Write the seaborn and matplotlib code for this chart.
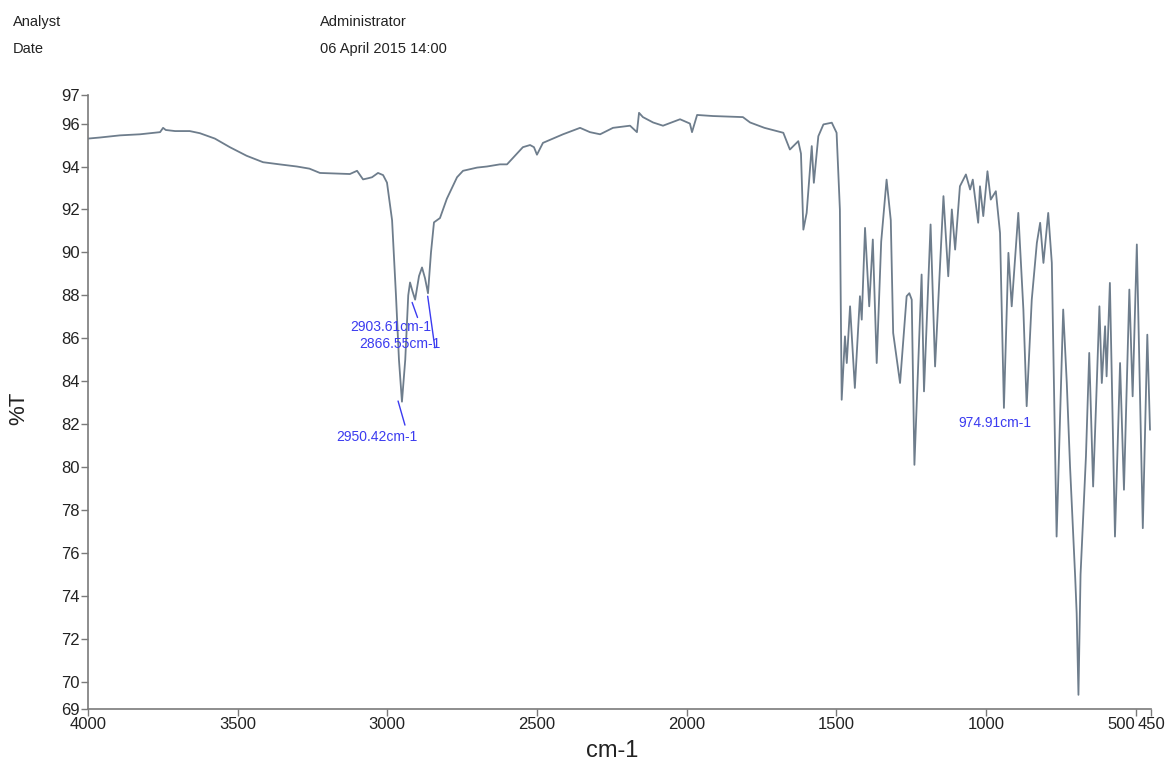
import matplotlib
matplotlib.use("Agg")
import matplotlib.pyplot as plt
import matplotlib.transforms as mtransforms
import seaborn as sns
import pandas as pd

sns.set_style("ticks")
plt.rcParams["font.family"] = ["Liberation Sans", "DejaVu Sans"]

# IR spectrum (wavenumber cm-1, %T)
wavenumber = [
    4000, 3960, 3893, 3826, 3759, 3749, 3740, 3709, 3660, 3626, 3576, 3526, 3470, 3415,
    3360, 3302, 3260, 3225, 3125, 3101, 3081, 3065, 3051, 3031, 3014, 3001, 2984, 2971,
    2961, 2951, 2940, 2930, 2924, 2916, 2907, 2894, 2884, 2874, 2864, 2854, 2844, 2824,
    2801, 2767, 2747, 2700, 2667, 2624, 2600, 2547, 2523, 2510, 2500, 2480, 2413, 2356,
    2323, 2289, 2246, 2189, 2166, 2159, 2146, 2112, 2079, 2022, 1989, 1982, 1965, 1912,
    1812, 1788, 1740, 1677, 1655, 1627, 1618, 1610, 1599, 1582, 1575, 1560, 1543, 1515,
    1499, 1488, 1482, 1471, 1465, 1454, 1438, 1421, 1415, 1404, 1390, 1378, 1365, 1350,
    1332, 1318, 1310, 1287, 1265, 1256, 1248, 1239, 1215, 1207, 1185, 1170, 1142, 1126,
    1114, 1103, 1087, 1067, 1053, 1044, 1026, 1020, 1009, 995, 984, 967, 953, 940,
    925, 914, 892, 875, 864, 847, 830, 819, 808, 792, 780, 764, 742, 730,
    719, 702, 697, 691, 684, 676, 666, 655, 642, 632, 621, 613, 602, 597,
    586, 569, 552, 539, 521, 510, 496, 476, 461, 452,
]
transmittance = [
    95.3, 95.35, 95.45, 95.5, 95.6, 95.8, 95.7, 95.65, 95.65, 95.55, 95.3, 94.9, 94.5, 94.2,
    94.1, 94.0, 93.9, 93.7, 93.65, 93.8, 93.4, 93.45, 93.5, 93.7, 93.6, 93.25, 91.5, 88.0,
    85.0, 83.05, 85.0, 88.0, 88.6, 88.2, 87.8, 88.9, 89.3, 88.8, 88.1, 90.0, 91.4, 91.6,
    92.5, 93.5, 93.8, 93.95, 94.0, 94.1, 94.1, 94.9, 95.0, 94.9, 94.55, 95.1, 95.5, 95.8,
    95.6, 95.5, 95.8, 95.9, 95.6, 96.5, 96.3, 96.05, 95.9, 96.2, 96.0, 95.6, 96.4, 96.35,
    96.3, 96.05, 95.8, 95.57, 94.79, 95.18, 94.6, 91.06, 91.84, 94.95, 93.24, 95.41, 95.96, 96.04,
    95.57, 92.0, 83.14, 86.09, 84.85, 87.49, 83.69, 87.96, 86.87, 91.14, 87.49, 90.6, 84.85, 90.5,
    93.39, 91.5, 86.25, 83.92, 87.96, 88.1, 87.8, 80.11, 88.97, 83.53, 91.3, 84.69, 92.62, 88.89,
    92.0, 90.13, 93.08, 93.63, 92.93, 93.39, 91.38, 93.08, 91.69, 93.78, 92.46, 92.85, 90.9, 82.76,
    89.98, 87.49, 91.84, 87.34, 82.84, 87.8, 90.44, 91.38, 89.51, 91.84, 89.51, 76.77, 87.34, 83.92,
    80.0, 74.9, 73.2, 69.4, 75.0, 77.4, 80.5, 85.32, 79.1, 83.0, 87.49, 83.92, 86.56, 84.23,
    88.58, 76.77, 84.85, 78.95, 88.27, 83.3, 90.37, 77.16, 86.17, 81.74,
]

# peak labels: text, label position (cm-1, %T), leader line start/end
peak_labels = ["2903.61cm-1", "2866.55cm-1", "2950.42cm-1", "974.91cm-1"]
label_x = [2988, 2958, 3034, 970]
label_y = [86.55, 85.75, 81.42, 82.07]
leader_x = [(2917, 2899), (2865, 2841), (2964, 2941), None]
leader_y = [(87.67, 86.97), (87.96, 85.56), (83.08, 81.96), None]

x_ticks = [4000, 3500, 3000, 2500, 2000, 1500, 1000, 500, 450]
y_ticks = [68.74, 70, 72, 74, 76, 78, 80, 82, 84, 86, 88, 90, 92, 94, 96, 97.33]
y_tick_labels = ["69", "70", "72", "74", "76", "78", "80", "82", "84", "86", "88",
                 "90", "92", "94", "96", "97"]

df = pd.DataFrame({"cm-1": wavenumber, "%T": transmittance})

fig = plt.figure(figsize=(11.68, 7.71), dpi=100)
ax = fig.add_axes([0.0753, 0.0804, 0.9098, 0.7964])

sns.lineplot(data=df, x="cm-1", y="%T", estimator=None, sort=False,
             color="#6e7d8c", linewidth=1.3, ax=ax)

ax.set_xlim(4000, 450)
ax.set_ylim(68.74, 97.33)
ax.set_xticks(x_ticks)
ax.set_xticklabels([str(t) for t in x_ticks])
ax.set_yticks(y_ticks)
ax.set_yticklabels(y_tick_labels)

for s in ["top", "right"]:
    ax.spines[s].set_visible(False)
for s in ["left", "bottom"]:
    ax.spines[s].set_color("#7a7a7a")
    ax.spines[s].set_linewidth(1.2)
ax.tick_params(axis="both", direction="out", length=5, width=1, color="#7a7a7a",
               labelsize=12, labelcolor="#222222", pad=1)

# "500" and "450" sit right next to each other; nudge them apart
xlabels = ax.get_xticklabels()
xlabels[7].set_transform(xlabels[7].get_transform()
                         + mtransforms.ScaledTranslation(-0.14, 0, fig.dpi_scale_trans))
xlabels[8].set_transform(xlabels[8].get_transform()
                         + mtransforms.ScaledTranslation(0.01, 0, fig.dpi_scale_trans))

ax.set_xlabel("cm-1", fontsize=17, color="#222222")
ax.set_ylabel("%T", fontsize=16, color="#222222")
ax.xaxis.set_label_coords(0.493, -0.05)
ax.yaxis.set_label_coords(-0.055, 0.49)

blue = "#3b3bf0"
for i, txt in enumerate(peak_labels):
    ax.text(label_x[i], label_y[i], txt, color=blue, fontsize=10,
            ha="center", va="center")
    if leader_x[i] is not None:
        ax.plot(leader_x[i], leader_y[i], color=blue, linewidth=1)

fig.text(0.011, 0.9715, "Analyst", fontsize=10.5, va="center", color="#222222")
fig.text(0.011, 0.9364, "Date", fontsize=10.5, va="center", color="#222222")
fig.text(0.274, 0.9715, "Administrator", fontsize=10.5, va="center", color="#222222")
fig.text(0.274, 0.9364, "06 April 2015 14:00", fontsize=10.5, va="center", color="#222222")

fig.savefig("out.png", dpi=100)
